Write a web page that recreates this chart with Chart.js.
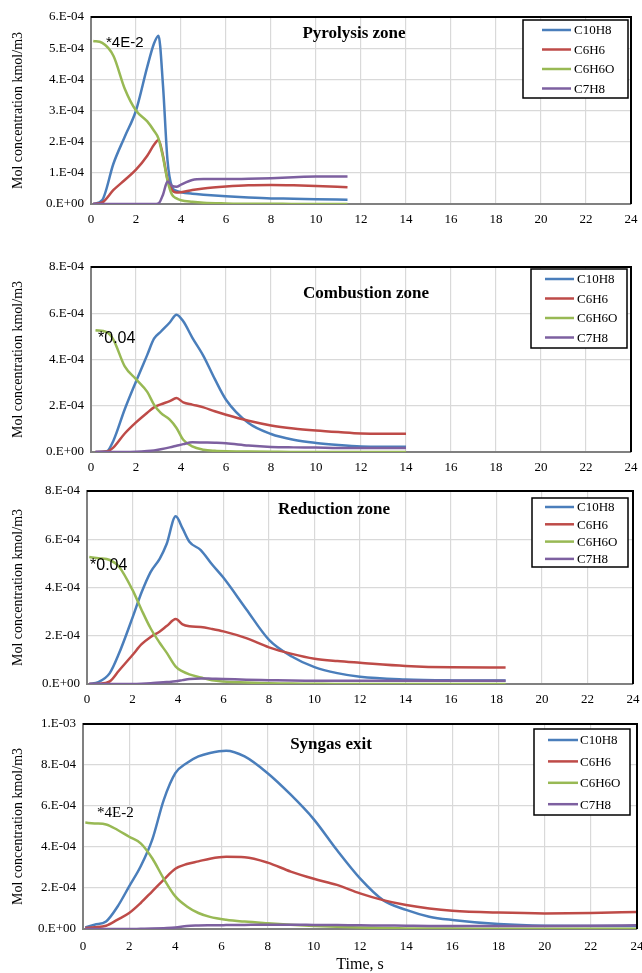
<!DOCTYPE html>
<html>
<head>
<meta charset="utf-8">
<script src="https://cdn.jsdelivr.net/npm/chart.js@4.4.1/dist/chart.umd.min.js"></script>
<style>
  body { margin: 0; background: #fff; }
  .panel { position: absolute; left: 0; }
</style>
</head>
<body>
<div class="panel" style="top:0px"><canvas id="c1" width="642" height="235"></canvas></div>
<div class="panel" style="top:235px"><canvas id="c2" width="642" height="245"></canvas></div>
<div class="panel" style="top:480px"><canvas id="c3" width="642" height="235"></canvas></div>
<div class="panel" style="top:715px"><canvas id="c4" width="642" height="258"></canvas></div>
<script>
// values in units of 1E-4 kmol/m3
const UNIT = 1e-4;
const seriesNames = ['C10H8', 'C6H6', 'C6H6O', 'C7H8'];
const seriesColors = ['#4a7ebb', '#be4b48', '#98b954', '#7d60a0'];
const xTickStep = 2;

// Pyrolysis zone
const pyroTime   = [0.1, 0.5, 1.0, 1.5, 2.0, 2.5, 2.8, 3.0, 3.2, 3.4, 3.6, 3.8, 4.0, 4.5, 5, 6, 7, 8, 9, 10, 11.4];
const pyroC10H8  = [0, 0.13, 1.3, 2.16, 3.0, 4.4, 5.15, 5.4, 3.8, 1.4, 0.55, 0.42, 0.38, 0.33, 0.3, 0.25, 0.21, 0.18, 0.17, 0.15, 0.14];
const pyroC6H6   = [0, 0.05, 0.45, 0.77, 1.1, 1.55, 1.9, 2.05, 1.55, 0.8, 0.45, 0.37, 0.38, 0.45, 0.5, 0.56, 0.6, 0.61, 0.6, 0.58, 0.54];
const pyroC6H6O  = [5.23, 5.17, 4.75, 3.7, 3.0, 2.65, 2.35, 2.1, 1.5, 0.75, 0.3, 0.18, 0.12, 0.07, 0.04, 0.02, 0.01, 0.01, 0, 0, 0];
const pyroC7H8   = [0, 0, 0, 0, 0, 0, 0, 0.02, 0.3, 0.72, 0.58, 0.55, 0.62, 0.77, 0.8, 0.8, 0.81, 0.83, 0.86, 0.88, 0.88];

// Combustion zone
const combTime   = [0.2, 0.7, 1.0, 1.5, 2.0, 2.5, 2.8, 3.1, 3.5, 3.8, 4.1, 4.5, 5.0, 5.5, 6, 7, 8, 9, 10, 11, 12, 13, 14];
const combC10H8  = [0, 0.03, 0.5, 1.85, 3.05, 4.2, 4.9, 5.2, 5.6, 5.94, 5.65, 4.95, 4.15, 3.16, 2.26, 1.25, 0.78, 0.53, 0.39, 0.3, 0.24, 0.23, 0.23];
const combC6H6   = [0, 0.02, 0.2, 0.8, 1.28, 1.7, 1.93, 2.06, 2.2, 2.33, 2.15, 2.05, 1.93, 1.76, 1.61, 1.35, 1.15, 1.02, 0.93, 0.86, 0.8, 0.79, 0.79];
const combC6H6O  = [5.26, 5.18, 4.85, 3.7, 3.15, 2.6, 2.05, 1.69, 1.4, 1.04, 0.53, 0.24, 0.1, 0.05, 0.03, 0.02, 0.01, 0, 0, 0, 0, 0, 0];
const combC7H8   = [0, 0, 0, 0, 0.01, 0.04, 0.07, 0.12, 0.2, 0.27, 0.34, 0.42, 0.41, 0.4, 0.38, 0.28, 0.22, 0.2, 0.19, 0.17, 0.17, 0.17, 0.17];

// Reduction zone
const reducTime  = [0.1, 0.5, 1.0, 1.4, 2.0, 2.4, 2.8, 3.2, 3.5, 3.9, 4.2, 4.5, 5.0, 5.5, 6, 7, 8, 9, 10, 11, 12, 14, 16, 18.4];
const reducC10H8 = [0, 0.08, 0.45, 1.25, 2.75, 3.8, 4.65, 5.2, 5.8, 6.95, 6.45, 5.9, 5.55, 4.95, 4.4, 3.1, 1.83, 1.14, 0.7, 0.45, 0.3, 0.19, 0.15, 0.14];
const reducC6H6  = [0, 0.01, 0.11, 0.55, 1.2, 1.65, 1.95, 2.18, 2.4, 2.69, 2.47, 2.39, 2.36, 2.28, 2.18, 1.9, 1.52, 1.25, 1.05, 0.95, 0.88, 0.75, 0.69, 0.68];
const reducC6H6O = [5.26, 5.21, 5.14, 4.87, 3.9, 3.07, 2.3, 1.7, 1.3, 0.72, 0.52, 0.4, 0.27, 0.15, 0.1, 0.06, 0.03, 0.02, 0.01, 0, 0, 0, 0, 0];
const reducC7H8  = [0, 0, 0, 0, 0, 0.01, 0.03, 0.06, 0.08, 0.11, 0.16, 0.21, 0.23, 0.22, 0.21, 0.18, 0.16, 0.14, 0.13, 0.13, 0.13, 0.13, 0.13, 0.13];

// Syngas exit
const synTime    = [0.1, 0.5, 1.0, 1.5, 2.0, 2.5, 3.0, 3.5, 4.0, 4.5, 5.0, 5.5, 6.2, 7, 8, 9, 10, 11, 12, 13, 14, 15, 16, 18, 20, 22, 24];
const synC10H8   = [0.08, 0.21, 0.37, 1.1, 2.08, 3.06, 4.36, 6.3, 7.6, 8.1, 8.42, 8.59, 8.7, 8.42, 7.6, 6.55, 5.35, 3.85, 2.47, 1.41, 0.93, 0.6, 0.44, 0.24, 0.16, 0.15, 0.15];
const synC6H6    = [0.05, 0.08, 0.16, 0.46, 0.78, 1.27, 1.84, 2.41, 2.94, 3.17, 3.3, 3.43, 3.52, 3.5, 3.24, 2.8, 2.45, 2.15, 1.74, 1.41, 1.17, 1.0, 0.89, 0.8, 0.76, 0.78, 0.83];
const synC6H6O   = [5.19, 5.15, 5.1, 4.83, 4.5, 4.18, 3.45, 2.45, 1.59, 1.1, 0.78, 0.59, 0.45, 0.36, 0.28, 0.21, 0.15, 0.11, 0.07, 0.05, 0.03, 0.02, 0.02, 0.01, 0.01, 0.01, 0.01];
const synC7H8    = [0, 0, 0, 0, 0, 0.01, 0.02, 0.04, 0.07, 0.15, 0.17, 0.18, 0.19, 0.2, 0.21, 0.21, 0.2, 0.19, 0.18, 0.17, 0.16, 0.15, 0.15, 0.15, 0.15, 0.16, 0.18];

const serif = '"Liberation Serif", "Times New Roman", serif';

// page-pixel layout of each panel
const panels = [
  { id: 'c1', top: 0, title: 'Pyrolysis zone', titleAt: [354, 34],
    time: pyroTime, series: [pyroC10H8, pyroC6H6, pyroC6H6O, pyroC7H8], yMax: 6, yStep: 1,
    padTop: 17, padRight: 11, yWidth: 91, xHeight: 31, xPad: 8,
    note: '*4E-2', noteFont: '15px "Liberation Sans", Arial, sans-serif', noteAt: [106, 43],
    legend: { x: 523, y: 20, w: 105, h: 78, row0: 10, gap: 19.5, l0: 19, l1: 48, tx: 51 } },
  { id: 'c2', top: 235, title: 'Combustion zone', titleAt: [366, 294],
    time: combTime, series: [combC10H8, combC6H6, combC6H6O, combC7H8], yMax: 8, yStep: 2,
    padTop: 32, padRight: 11, yWidth: 91, xHeight: 28, xPad: 8,
    note: '*0.04', noteFont: '16px "Liberation Sans", Arial, sans-serif', noteAt: [98, 339],
    legend: { x: 531, y: 269, w: 96, h: 79, row0: 10, gap: 19.5, l0: 14, l1: 43, tx: 46 } },
  { id: 'c3', top: 480, title: 'Reduction zone', titleAt: [334, 510],
    time: reducTime, series: [reducC10H8, reducC6H6, reducC6H6O, reducC7H8], yMax: 8, yStep: 2,
    padTop: 11, padRight: 9, yWidth: 87, xHeight: 31, xPad: 8,
    note: '*0.04', noteFont: '16px "Liberation Sans", Arial, sans-serif', noteAt: [90, 566],
    legend: { x: 532, y: 498, w: 96, h: 69, row0: 9, gap: 17.3, l0: 13, l1: 42, tx: 45 } },
  { id: 'c4', top: 715, title: 'Syngas exit', titleAt: [331, 745],
    time: synTime, series: [synC10H8, synC6H6, synC6H6O, synC7H8], yMax: 10, yStep: 2,
    padTop: 9, padRight: 5, yWidth: 83, xHeight: 44, xPad: 10, xTitle: 'Time, s',
    note: '*4E-2', noteFont: '15px ' + serif, noteAt: [97, 813],
    legend: { x: 534, y: 729, w: 96, h: 86, row0: 11, gap: 21.4, l0: 14, l1: 44, tx: 46 } }
];

function sciLabel(v) {
  if (Math.abs(v) < 1e-12) return '0.E+00';
  let e = Math.floor(Math.log10(v) + 1e-9);
  let m = Math.round(v / Math.pow(10, e));
  if (m >= 10) { m /= 10; e++; }
  return m + '.E' + (e < 0 ? '-' : '+') + String(Math.abs(e)).padStart(2, '0');
}

const decorPlugin = {
  id: 'decor',
  afterDraw(chart) {
    const p = chart.options.plugins.decor.panel;
    const ctx = chart.ctx;
    const a = chart.chartArea;
    ctx.save();
    // black frame top/right
    ctx.strokeStyle = '#000';
    ctx.lineWidth = 2;
    ctx.beginPath();
    ctx.moveTo(a.left, a.top);
    ctx.lineTo(a.right, a.top);
    ctx.lineTo(a.right, a.bottom);
    ctx.stroke();

    // title
    ctx.fillStyle = '#000';
    ctx.font = 'bold 17px ' + serif;
    ctx.textAlign = 'center';
    ctx.textBaseline = 'middle';
    ctx.fillText(p.title, p.titleAt[0], p.titleAt[1] - p.top);

    // scale note
    ctx.font = p.noteFont;
    ctx.textAlign = 'left';
    ctx.fillText(p.note, p.noteAt[0], p.noteAt[1] - p.top);

    // legend
    const L = p.legend;
    const ly = L.y - p.top;
    ctx.fillStyle = '#fff';
    ctx.fillRect(L.x, ly, L.w, L.h);
    ctx.strokeStyle = '#000';
    ctx.lineWidth = 1.5;
    ctx.strokeRect(L.x, ly, L.w, L.h);
    ctx.font = '13px ' + serif;
    seriesNames.forEach((name, i) => {
      const y = ly + L.row0 + i * L.gap;
      ctx.strokeStyle = seriesColors[i];
      ctx.lineWidth = 2.5;
      ctx.beginPath();
      ctx.moveTo(L.x + L.l0, y);
      ctx.lineTo(L.x + L.l1, y);
      ctx.stroke();
      ctx.fillStyle = '#000';
      ctx.fillText(name, L.x + L.tx, y + 1);
    });
    ctx.restore();
  }
};

panels.forEach(p => {
  const datasets = seriesNames.map((name, i) => ({
    label: name,
    data: p.time.map((t, k) => ({ x: t, y: p.series[i][k] * UNIT })),
    borderColor: seriesColors[i],
    backgroundColor: seriesColors[i],
    borderWidth: 2.5,
    pointRadius: 0,
    cubicInterpolationMode: 'monotone',
    order: 3 - i
  }));

  new Chart(document.getElementById(p.id).getContext('2d'), {
    type: 'line',
    data: { datasets },
    plugins: [decorPlugin],
    options: {
      responsive: false,
      animation: false,
      devicePixelRatio: 1,
      layout: { padding: { top: p.padTop, right: p.padRight, left: 0, bottom: 0 } },
      plugins: {
        legend: { display: false },
        tooltip: { enabled: false },
        decor: { panel: p }
      },
      scales: {
        x: {
          type: 'linear', min: 0, max: 24,
          ticks: { stepSize: xTickStep, padding: p.xPad, color: '#000', font: { family: serif, size: 13 }, maxRotation: 0 },
          grid: { color: '#d9d9d9', lineWidth: 1.2, drawTicks: false },
          border: { color: '#808080', width: 2 },
          title: { display: !!p.xTitle, text: p.xTitle || '', color: '#000',
                   font: { family: serif, size: 16, lineHeight: 1 }, padding: { top: 0, bottom: 0 } },
          afterFit(s) { s.height = p.xHeight; s.paddingLeft = 0; s.paddingRight = 0; }
        },
        y: {
          min: 0, max: p.yMax * UNIT,
          ticks: { stepSize: p.yStep * UNIT, padding: 7, color: '#000', font: { family: serif, size: 13 },
                   callback: v => sciLabel(v) },
          grid: { color: '#d9d9d9', lineWidth: 1.2, drawTicks: false },
          border: { color: '#808080', width: 2 },
          title: { display: true, text: 'Mol concentration kmol/m3', color: '#000',
                   font: { family: serif, size: 14 }, padding: { top: 10, bottom: 0 } },
          afterFit(s) { s.width = p.yWidth; s.paddingTop = 0; s.paddingBottom = 0; }
        }
      }
    }
  });
});
</script>
</body>
</html>
